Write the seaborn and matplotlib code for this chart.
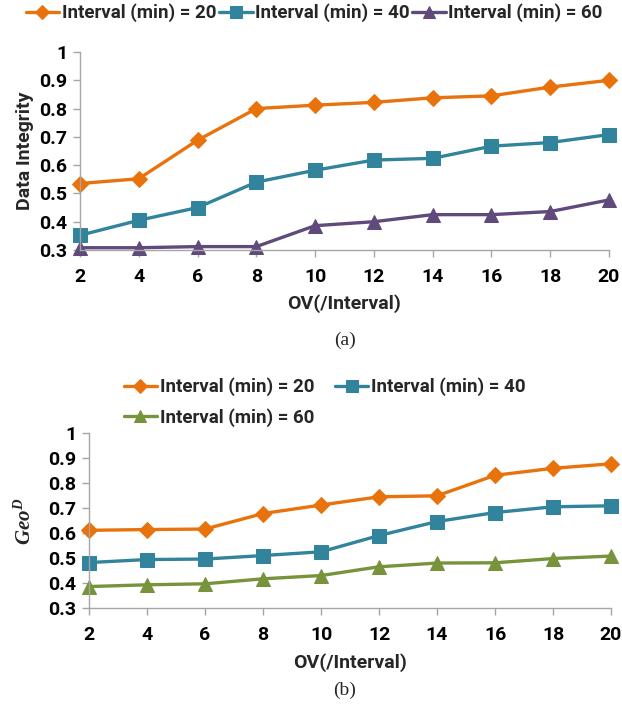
import matplotlib
matplotlib.use("Agg")
import matplotlib.pyplot as plt
import seaborn as sns
import pandas as pd

sns.set_theme(style="white")
plt.rcParams["font.family"] = ["Roboto", "DejaVu Sans"]
plt.rcParams["mathtext.fontset"] = "custom"
plt.rcParams["mathtext.it"] = "Liberation Serif:italic:bold"
plt.rcParams["mathtext.rm"] = "Liberation Serif:bold"

ov = [2, 4, 6, 8, 10, 12, 14, 16, 18, 20]
series_labels = ["Interval (min) = 20", "Interval (min) = 40", "Interval (min) = 60"]

# (a) data integrity
integrity_20 = [0.535, 0.552, 0.688, 0.800, 0.812, 0.822, 0.838, 0.845, 0.876, 0.900]
integrity_40 = [0.352, 0.405, 0.450, 0.540, 0.582, 0.618, 0.624, 0.667, 0.680, 0.708]
integrity_60 = [0.308, 0.308, 0.312, 0.312, 0.386, 0.400, 0.425, 0.425, 0.436, 0.477]

# (b) Geo^D
geo_20 = [0.612, 0.615, 0.617, 0.679, 0.713, 0.746, 0.750, 0.832, 0.860, 0.878]
geo_40 = [0.483, 0.495, 0.497, 0.511, 0.526, 0.591, 0.647, 0.683, 0.706, 0.710]
geo_60 = [0.387, 0.394, 0.398, 0.418, 0.431, 0.466, 0.481, 0.482, 0.499, 0.509]

ORANGE = "#E8730C"
TEAL = "#31849B"
PURPLE = "#604A7B"
GREEN = "#77933C"
SPINE = "#A6A6A6"
FS = 14

fig = plt.figure(figsize=(6.22, 7.06), dpi=100)
ax_a = fig.add_axes([80 / 622, 1 - 250 / 706, 529 / 622, 198 / 706])
ax_b = fig.add_axes([89 / 622, 1 - 608.3 / 706, 522 / 622, 175 / 706])


def draw_panel(ax, values, colors, markers, sizes):
    handles = []
    for vals, label, col, mk, ms in zip(values, series_labels, colors, markers, sizes):
        df = pd.DataFrame({"ov": ov, "value": vals})
        sns.lineplot(data=df, x="ov", y="value", ax=ax, color=col, marker=mk,
                     markersize=ms, markeredgecolor=col, linewidth=2.4,
                     clip_on=False, label=label, legend=False)
        handles.append(ax.lines[-1])
    ax.set_xlim(2, 20)
    ax.set_ylim(0.3, 1.0)
    ax.set_xticks(ov)
    ax.set_xticklabels([str(v) for v in ov])
    ax.set_yticks([0.3, 0.4, 0.5, 0.6, 0.7, 0.8, 0.9, 1.0])
    ax.set_yticklabels(["0.3", "0.4", "0.5", "0.6", "0.7", "0.8", "0.9", "1"])
    for side in ("top", "right"):
        ax.spines[side].set_visible(False)
    for side in ("left", "bottom"):
        ax.spines[side].set_color(SPINE)
        ax.spines[side].set_linewidth(1.0)
    ax.tick_params(axis="both", which="major", direction="out", length=5,
                   width=1.0, color=SPINE, labelsize=FS, labelcolor="black",
                   bottom=True, left=True)
    ax.tick_params(axis="x", pad=8)
    ax.tick_params(axis="y", pad=4)
    for t in ax.get_xticklabels() + ax.get_yticklabels():
        t.set_fontweight("bold")
    ax.set_xlabel("OV(/Interval)", fontsize=FS, fontweight="bold", labelpad=6)
    return handles


h_a = draw_panel(ax_a, [integrity_20, integrity_40, integrity_60],
                 [ORANGE, TEAL, PURPLE], ["D", "s", "^"], [8, 10, 10])
ax_a.set_ylabel("Data Integrity", fontsize=FS, fontweight="bold", labelpad=4)

h_b = draw_panel(ax_b, [geo_20, geo_40, geo_60],
                 [ORANGE, TEAL, GREEN], ["D", "s", "^"], [8, 10, 10])
ax_b.set_ylabel(r"$Geo^{D}$", fontsize=15, labelpad=10)

leg_kw = dict(frameon=False, prop={"size": 13.5, "weight": "bold"},
              handlelength=1.8, handletextpad=0.12, borderaxespad=0,
              markerscale=0.85)
fig.legend(handles=h_a, labels=series_labels, loc="center", ncol=3,
           bbox_to_anchor=(0.505, 1 - 13 / 706), columnspacing=0.15, **leg_kw)
# two-column legend filled row by row: 20, 40 on the first row, 60 below
fig.legend(handles=[h_b[0], h_b[2], h_b[1]],
           labels=[series_labels[0], series_labels[2], series_labels[1]],
           loc="upper left", ncol=2,
           bbox_to_anchor=(116 / 622, 1 - 370 / 706), columnspacing=1.1,
           labelspacing=0.62, **leg_kw)

fig.text(345 / 622, 1 - 340 / 706, "(a)", ha="center", va="center",
         fontsize=14, family=["Liberation Serif", "DejaVu Serif"])
fig.text(345 / 622, 1 - 690 / 706, "(b)", ha="center", va="center",
         fontsize=14, family=["Liberation Serif", "DejaVu Serif"])

fig.savefig("out.png", dpi=100)
